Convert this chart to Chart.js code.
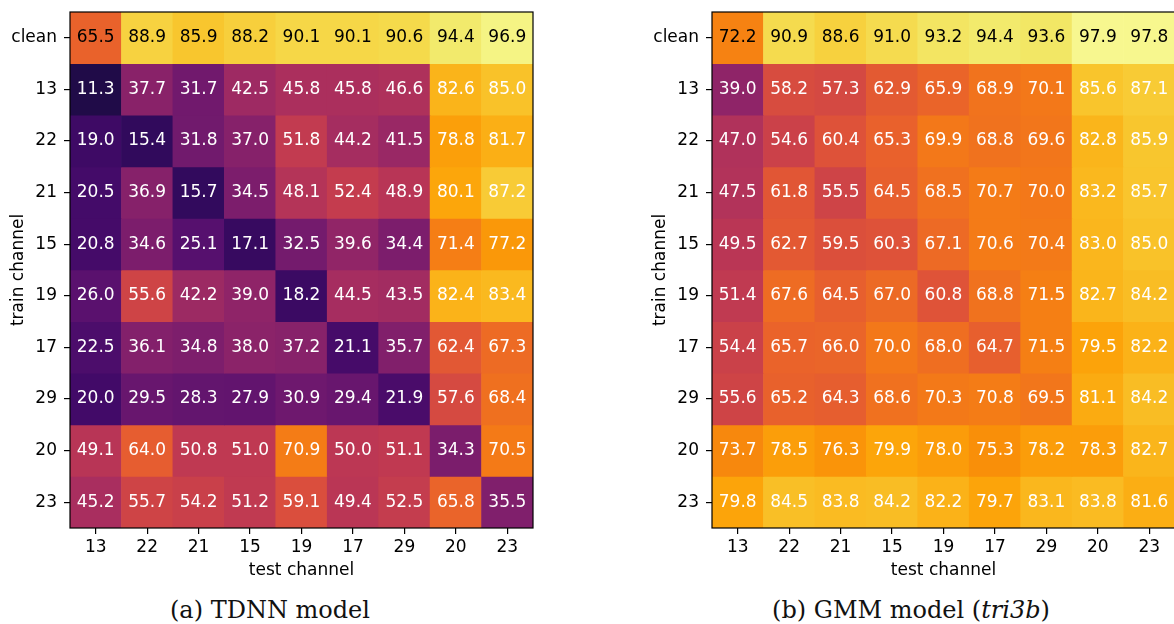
<!DOCTYPE html>
<html>
<head>
<meta charset="utf-8">
<script src="https://cdn.jsdelivr.net/npm/chart.js@4.4.1/dist/chart.umd.min.js"></script>
<style>
  html, body { margin: 0; padding: 0; background: #fff; }
  body { position: relative; width: 1174px; height: 624px; overflow: hidden; }
  canvas { position: absolute; top: 0; }
  .caption {
    position: absolute; top: 596px; width: 400px; text-align: center;
    font-family: "DejaVu Serif", serif; font-size: 24px; line-height: 28px; color: #111;
    white-space: nowrap;
  }
</style>
</head>
<body>
<canvas id="tdnn" width="560" height="590" style="left:0px"></canvas>
<canvas id="gmm" width="560" height="590" style="left:642px"></canvas>
<div class="caption" style="left:70px">(a) TDNN model</div>
<div class="caption" style="left:711px">(b) GMM model (<i>tri3b</i>)</div>
<script>
// Axis categories
const testChannels = ['13', '22', '21', '15', '19', '17', '29', '20', '23'];
const trainChannels = ['clean', '13', '22', '21', '15', '19', '17', '29', '20', '23'];

// Accuracy (%) per train channel (rows) and test channel (columns)
const tdnnAccuracy = [
  [65.5, 88.9, 85.9, 88.2, 90.1, 90.1, 90.6, 94.4, 96.9],
  [11.3, 37.7, 31.7, 42.5, 45.8, 45.8, 46.6, 82.6, 85.0],
  [19.0, 15.4, 31.8, 37.0, 51.8, 44.2, 41.5, 78.8, 81.7],
  [20.5, 36.9, 15.7, 34.5, 48.1, 52.4, 48.9, 80.1, 87.2],
  [20.8, 34.6, 25.1, 17.1, 32.5, 39.6, 34.4, 71.4, 77.2],
  [26.0, 55.6, 42.2, 39.0, 18.2, 44.5, 43.5, 82.4, 83.4],
  [22.5, 36.1, 34.8, 38.0, 37.2, 21.1, 35.7, 62.4, 67.3],
  [20.0, 29.5, 28.3, 27.9, 30.9, 29.4, 21.9, 57.6, 68.4],
  [49.1, 64.0, 50.8, 51.0, 70.9, 50.0, 51.1, 34.3, 70.5],
  [45.2, 55.7, 54.2, 51.2, 59.1, 49.4, 52.5, 65.8, 35.5]
];

const gmmAccuracy = [
  [72.2, 90.9, 88.6, 91.0, 93.2, 94.4, 93.6, 97.9, 97.8],
  [39.0, 58.2, 57.3, 62.9, 65.9, 68.9, 70.1, 85.6, 87.1],
  [47.0, 54.6, 60.4, 65.3, 69.9, 68.8, 69.6, 82.8, 85.9],
  [47.5, 61.8, 55.5, 64.5, 68.5, 70.7, 70.0, 83.2, 85.7],
  [49.5, 62.7, 59.5, 60.3, 67.1, 70.6, 70.4, 83.0, 85.0],
  [51.4, 67.6, 64.5, 67.0, 60.8, 68.8, 71.5, 82.7, 84.2],
  [54.4, 65.7, 66.0, 70.0, 68.0, 64.7, 71.5, 79.5, 82.2],
  [55.6, 65.2, 64.3, 68.6, 70.3, 70.8, 69.5, 81.1, 84.2],
  [73.7, 78.5, 76.3, 79.9, 78.0, 75.3, 78.2, 78.3, 82.7],
  [79.8, 84.5, 83.8, 84.2, 82.2, 79.7, 83.1, 83.8, 81.6]
];

// Inferno colour map, sampled every 0.05
const infernoStops = [
  '#000004', '#0b0724', '#1b0c41', '#2f0a5b', '#420a68', '#56106e', '#6a176e',
  '#7e1e6c', '#932667', '#a82e5f', '#bc3754', '#cc4248', '#dd513a', '#e8602d',
  '#f37819', '#f98e09', '#fca50a', '#f9c229', '#f6d746', '#f1ed71', '#fcffa4'
];
function hexToRgb(h) {
  return [1, 3, 5].map(i => parseInt(h.slice(i, i + 2), 16));
}
const infernoRgb = infernoStops.map(hexToRgb);
function inferno(t) {
  t = Math.min(1, Math.max(0, t));
  const pos = t * (infernoRgb.length - 1);
  const i = Math.min(infernoRgb.length - 2, Math.floor(pos));
  const f = pos - i;
  const a = infernoRgb[i], b = infernoRgb[i + 1];
  const c = a.map((v, k) => Math.round(v + (b[k] - v) * f));
  return `rgb(${c[0]},${c[1]},${c[2]})`;
}

const axisFont = { family: 'DejaVu Sans', size: 17 };

// Writes each cell's value in its centre
const cellLabels = {
  id: 'cellLabels',
  afterDatasetsDraw(chart) {
    const ctx = chart.ctx;
    const values = chart.options.plugins.cellLabels.values;
    ctx.save();
    ctx.font = '17px "DejaVu Sans"';
    ctx.textAlign = 'center';
    ctx.textBaseline = 'middle';
    chart.data.datasets.forEach((ds, r) => {
      const meta = chart.getDatasetMeta(r);
      meta.data.forEach((bar, c) => {
        const { x, y, base } = bar.getProps(['x', 'y', 'base'], true);
        ctx.fillStyle = r === 0 ? '#000' : '#fff';
        ctx.fillText(values[r][c].toFixed(1), x, (y + base) / 2);
      });
    });
    ctx.restore();
  }
};

// Black frame round the plot area
const frame = {
  id: 'frame',
  afterDraw(chart) {
    const { left, top, right, bottom } = chart.chartArea;
    const ctx = chart.ctx;
    ctx.save();
    ctx.strokeStyle = '#000';
    ctx.lineWidth = 1.2;
    ctx.strokeRect(left, top, right - left, bottom - top);
    ctx.restore();
  }
};

function heatmap(id, values) {
  return new Chart(document.getElementById(id), {
    type: 'bar',
    data: {
      labels: testChannels,
      datasets: trainChannels.map((name, r) => ({
        label: name,
        data: values[r].map(() => [r - 0.5, r + 0.5]),
        backgroundColor: values[r].map(v => inferno(v / 100)),
        borderWidth: 0,
        grouped: false,
        barPercentage: 1,
        categoryPercentage: 1
      }))
    },
    options: {
      responsive: false,
      animation: false,
      devicePixelRatio: 1,
      layout: { padding: { top: 12, right: 27, bottom: 0, left: 0 } },
      plugins: {
        legend: { display: false },
        tooltip: { enabled: false },
        cellLabels: { values }
      },
      scales: {
        x: {
          grid: { offset: false, drawOnChartArea: false, tickLength: 6, color: '#000', lineWidth: 1.2 },
          border: { display: false },
          ticks: { color: '#000', font: axisFont, padding: 3, maxRotation: 0, autoSkip: false },
          title: { display: true, text: 'test channel', color: '#000', font: axisFont, padding: { top: 0, bottom: 9 } },
          afterFit(scale) {
            scale.height = 62;
            scale.paddingLeft = 0;
            scale.paddingRight = 0;
          }
        },
        y: {
          type: 'linear',
          min: -0.5,
          max: 9.5,
          reverse: true,
          afterBuildTicks(scale) { scale.ticks = trainChannels.map((_, i) => ({ value: i })); },
          grid: { drawOnChartArea: false, tickLength: 6, color: '#000', lineWidth: 1.2 },
          border: { display: false },
          ticks: { color: '#000', font: axisFont, padding: 7, callback: v => trainChannels[v] },
          title: { display: true, text: 'train channel', color: '#000', font: axisFont, padding: { top: 8, bottom: 0 } },
          afterFit(scale) {
            scale.width = 70;
            scale.paddingTop = 0;
            scale.paddingBottom = 0;
          }
        }
      }
    },
    plugins: [cellLabels, frame]
  });
}

heatmap('tdnn', tdnnAccuracy);
heatmap('gmm', gmmAccuracy);
</script>
</body>
</html>
